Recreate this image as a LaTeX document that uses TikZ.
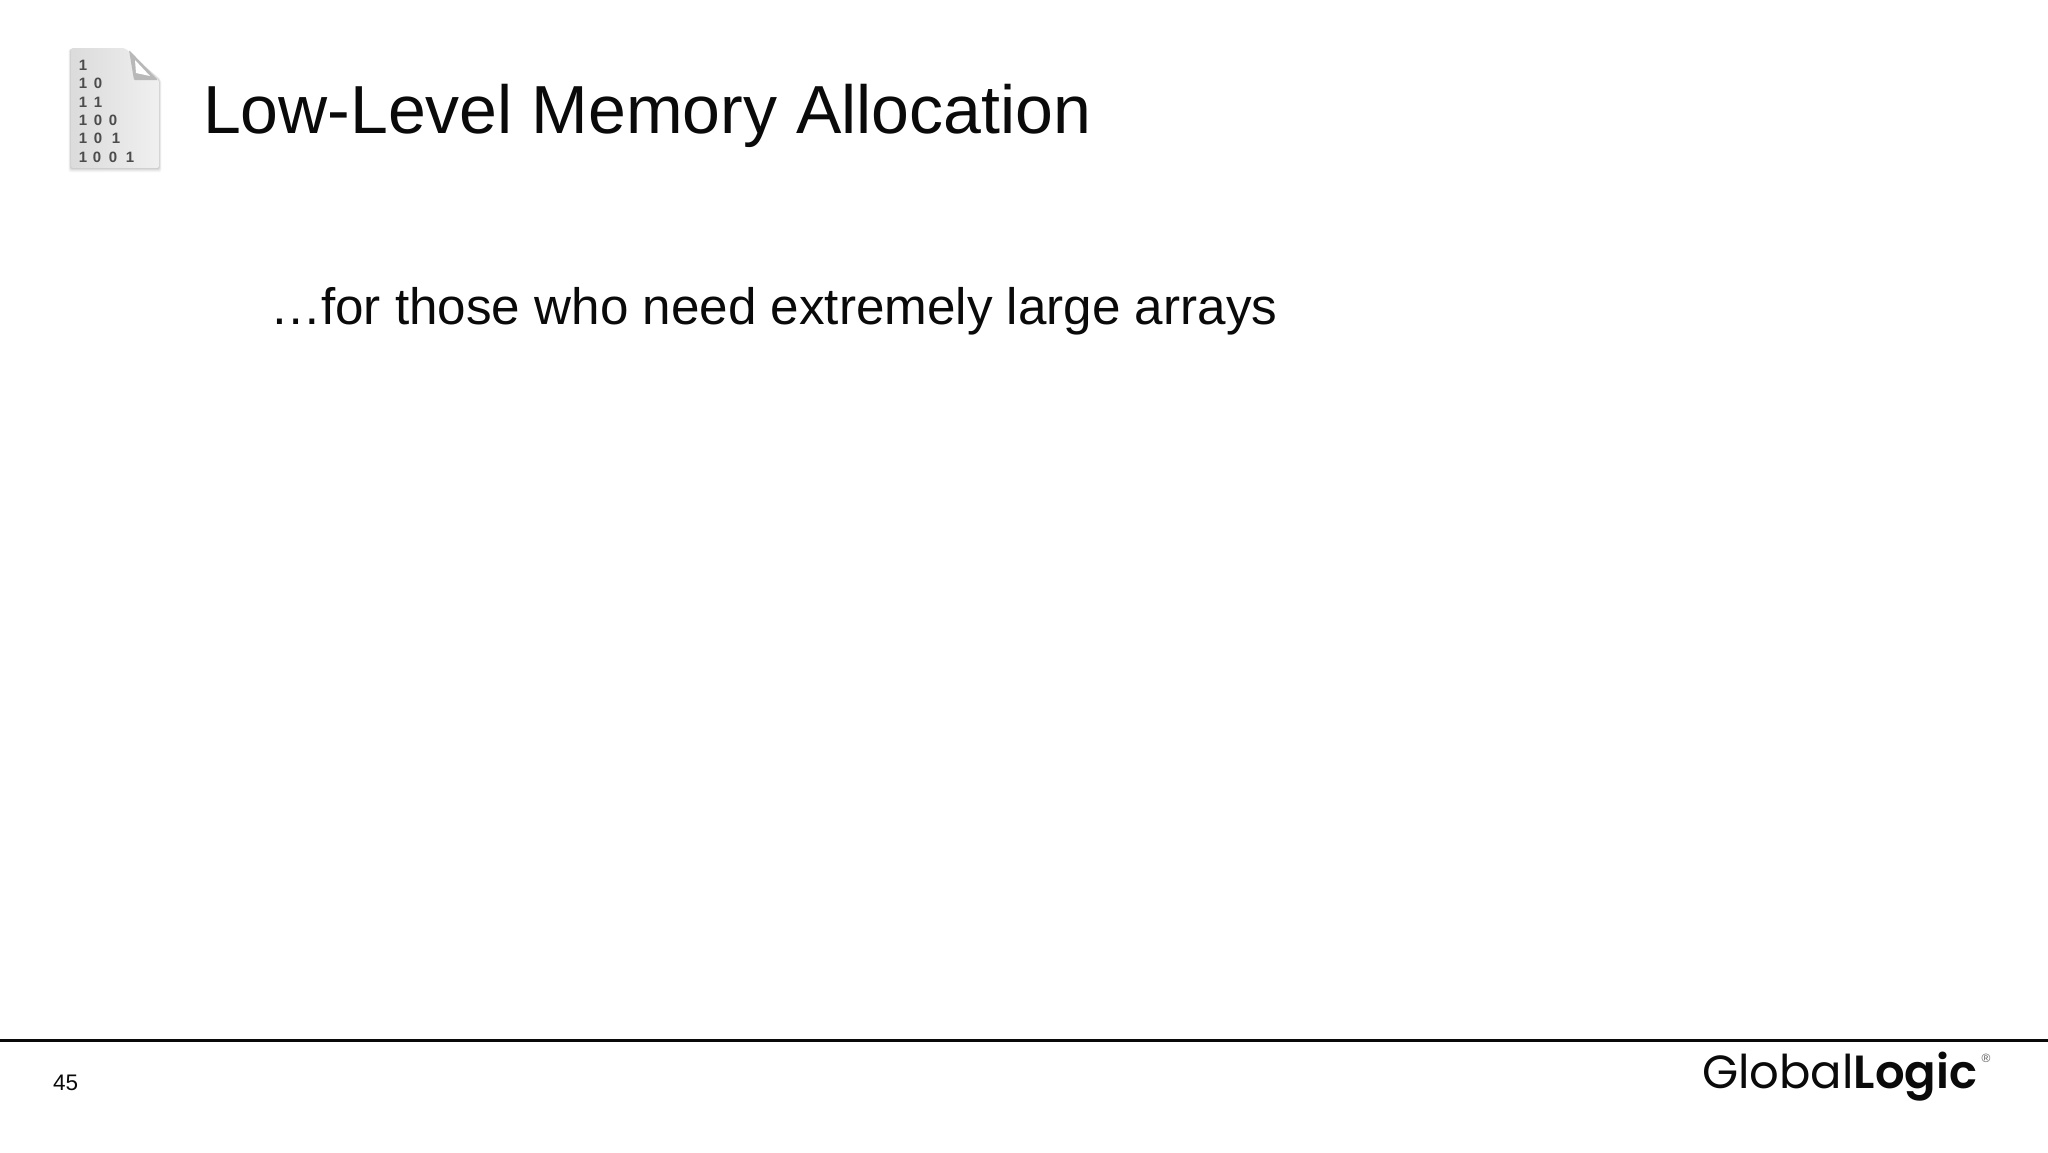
\documentclass[tikz,border=0pt]{standalone}
\usepackage{fontspec}
\setmainfont{Liberation Sans}
\newfontfamily\logofont{Poppins SemiBold}
\newfontfamily\logofontL{Poppins}
\definecolor{inkblack}{HTML}{0A0A0A}
\tikzset{
  txt/.style={anchor=base west,inner sep=0pt,outer sep=0pt,text=inkblack},
  bit/.style={anchor=center,inner sep=0pt,text=black!70,font=\fontsize{15}{15}\selectfont\bfseries},
}
\begin{document}
\begin{tikzpicture}[x=1pt,y=-1pt]
\useasboundingbox (0,0) rectangle (2048,1152);
\fill[white] (0,0) rectangle (2048,1152);
% icon
\foreach \o/\c in {4/black!4,3/black!8,2/black!13,1/black!20}{
  \fill[\c,rounded corners=2pt] (71-\o*.6,49) -- (125,49) -- (159+\o*.6,80) -- (159+\o*.6,168+\o) -- (71-\o*.6,168+\o) -- cycle;
}
\path[left color=black!14,right color=black!6,rounded corners=2pt]
  (71,48) -- (125,48) -- (159,80) -- (159,168) -- (71,168) -- cycle;
\fill[black!28,rounded corners=1pt] (129,50) -- (158,80) -- (134,80) -- cycle;
\fill[white] (135,60) -- (150,76) -- (136,73) -- cycle;
\foreach \t/\xx/\yy in {1/83/65,
  1/83/83,0/98/83,
  1/83/102,1/98/102,
  1/83/120,0/98/120,0/113/120,
  1/83/138,0/98/138,1/116/138,
  1/83/157,0/97/157,0/113/157,1/130/157}{
  \node[bit] at (\xx,\yy) {\t};
}
% texts
\node[txt,font=\fontsize{68}{68}\selectfont] (title) at (203,133) {Low-Level Memory Allocation};
\node[txt,font=\fontsize{51.2}{51.2}\selectfont] (sub) at (270,324) {…for those who need extremely large arrays};
\node[txt,font=\fontsize{22.5}{22.5}\selectfont] (page) at (53,1090) {45};
% rule
\draw[line width=3pt,inkblack] (0,1040) -- (2048,1040);
% logo
\node[txt,font=\fontsize{46.5}{46.5}\selectfont] (logo) at (1702,1088) {{\logofontL Global}{\logofont Logic}};
\node[anchor=center,inner sep=0pt,text=black!65,font=\fontsize{12}{12}\selectfont] (reg) at (1986,1058) {®};
\end{tikzpicture}
\end{document}
